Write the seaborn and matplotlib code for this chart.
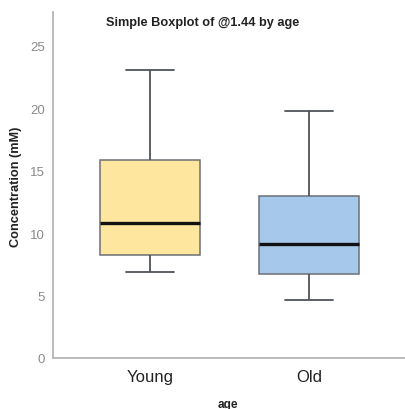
import matplotlib
matplotlib.use("Agg")
import matplotlib.pyplot as plt
import seaborn as sns
import pandas as pd

# Five-number summaries per group: min, Q1, median, Q3, max
groups = ["Young", "Old"]
young_vals = [6.9, 8.28, 10.8, 15.85, 23.05]
old_vals = [4.62, 6.7, 9.13, 13.0, 19.78]
colors = {"Young": "#FFE69E", "Old": "#A6C8EB"}

df = pd.DataFrame({
    "age": ["Young"] * len(young_vals) + ["Old"] * len(old_vals),
    "conc": young_vals + old_vals,
})

sns.set_theme(style="white")
plt.rcParams["font.family"] = ["Liberation Sans", "DejaVu Sans"]

W, H = 406, 410
fig = plt.figure(figsize=(W / 100, H / 100), dpi=100)
ax_left, ax_bottom, ax_top = 53, 359, 13
ax = fig.add_axes([ax_left / W, (H - ax_bottom) / H, 1 - ax_left / W, (ax_bottom - ax_top) / H])

sns.boxplot(
    data=df, x="age", y="conc", hue="age", order=groups, hue_order=groups,
    palette=colors, saturation=1, whis=(0, 100), width=0.625, linecolor="#4f5358",
    linewidth=1.2, capwidths=0.3, legend=False, ax=ax,
    medianprops={"color": "#111111", "linewidth": 2.4},
    boxprops={"edgecolor": "#6b7077", "linewidth": 1.1},
    whiskerprops={"color": "#4f5358", "linewidth": 1.3},
    capprops={"color": "#4f5358", "linewidth": 1.3},
)

ax.set_xlim(-0.606, 1.606)
ax.set_ylim(0, 27.7)
ax.set_yticks([0, 5, 10, 15, 20, 25])
ax.tick_params(axis="y", labelsize=9.5, labelcolor="#8a8a8a", length=0, pad=6)
ax.tick_params(axis="x", labelsize=12, labelcolor="#222222", length=0, pad=8)

for side in ("top", "right"):
    ax.spines[side].set_visible(False)
for side in ("left", "bottom"):
    ax.spines[side].set_color("#b5b5b5")
    ax.spines[side].set_linewidth(1.3)

ax_w, ax_h = W - ax_left, ax_bottom - ax_top
ax.set_xlabel("age", fontsize=8.5, fontweight="bold", color="#222222")
ax.xaxis.set_label_coords((228 - ax_left) / ax_w, (ax_bottom - 405) / ax_h)
ax.xaxis.label.set_verticalalignment("center")

ax.set_ylabel("Concentration (mM)", fontsize=9.2, fontweight="bold", color="#222222")
ax.yaxis.set_label_coords((16 - ax_left) / ax_w, (ax_bottom - 187) / ax_h)
ax.yaxis.label.set_verticalalignment("center")

fig.text(0.5, 1 - 23 / H, "Simple Boxplot of @1.44 by age", ha="center", va="center",
         fontsize=9.2, fontweight="bold", color="#222222")

fig.savefig("out.png", dpi=100)
